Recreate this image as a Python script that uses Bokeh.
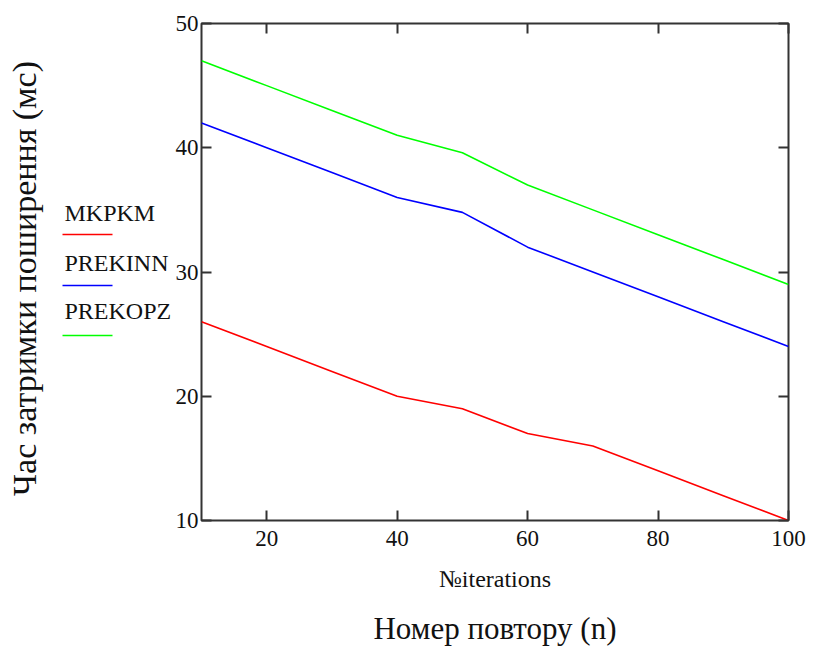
import math
from bokeh.plotting import figure
from bokeh.models import Range1d, FixedTicker, LinearAxis, ColumnDataSource
from bokeh.layouts import row
from bokeh.core.properties import value
from bokeh.embed import file_html
from bokeh.resources import INLINE

# ---- data ----
iterations = [10, 20, 30, 40, 50, 60, 70, 80, 90, 100]
mkpkm = [26, 24, 22, 20, 19, 17, 16, 14, 12, 10]
prekinn = [42, 40, 38, 36, 34.8, 32, 30, 28, 26, 24]
prekopz = [47, 45, 43, 41, 39.6, 37, 35, 33, 31, 29]
series_names = ["MKPKM", "PREKINN", "PREKOPZ"]
series_colors = ["#ff0000", "#0000ff", "#00ff00"]
x_ticks = [20, 40, 60, 80, 100]
y_ticks = [10, 20, 30, 40, 50]
x_title = "№iterations"
x_caption = "Номер повтору (n)"
y_title = "Час затримки поширення (мс)"

FONT = "Liberation Serif"
DARK = "#333333"
TXT = "#111111"

TOTAL_W, H = 814, 648
LW = 172                      # side panel (y title + legend)
MW = TOTAL_W - LW             # main chart figure
FRAME_L, FRAME_R, FRAME_T, FRAME_B = 200, 788, 23, 520

# ---------------- side panel: y title and legend ----------------
# its frame is aligned with the main chart's frame (rows align plot borders),
# so the y range is expressed in page pixels between the frame's top and bottom
side = figure(width=LW, height=H, output_backend="svg", toolbar_location=None,
              x_range=Range1d(0, LW), y_range=Range1d(FRAME_B, FRAME_T),
              min_border_left=0, min_border_right=0,
              min_border_top=FRAME_T, min_border_bottom=H - FRAME_B,
              x_axis_location=None, y_axis_location=None)
side.grid.visible = False
side.outline_line_color = None

side.text(x=[24], y=[278], text=[y_title], angle=math.pi / 2,
          text_font=value(FONT), text_font_size=value("34px"), text_color=TXT,
          text_align="center", text_baseline="middle")

leg = ColumnDataSource(dict(
    name=series_names, color=series_colors,
    tx=[64, 64, 64], ty=[212, 262, 310],
    x0=[62, 62, 62], x1=[112, 112, 112], ly=[234, 285, 335]))
side.text(x="tx", y="ty", text="name", source=leg, text_font=value(FONT),
          text_font_size=value("24px"), text_color=TXT,
          text_align="left", text_baseline="middle")
side.segment(x0="x0", y0="ly", x1="x1", y1="ly", color="color", source=leg, line_width=1.6)

# ---------------- main chart ----------------
p = figure(width=MW, height=H, output_backend="svg", toolbar_location=None,
           x_range=Range1d(10, 100), y_range=Range1d(10, 50),
           min_border_left=FRAME_L - LW, min_border_right=TOTAL_W - FRAME_R,
           min_border_top=FRAME_T, min_border_bottom=H - FRAME_B,
           x_axis_location=None, y_axis_location=None)
p.grid.visible = False
p.outline_line_color = DARK
p.outline_line_width = 2


def make_axis(ticks, labels=True):
    ax = LinearAxis(ticker=FixedTicker(ticks=ticks))
    ax.axis_line_color = None
    ax.major_tick_in = 10
    ax.major_tick_out = 0
    ax.major_tick_line_color = DARK
    ax.major_tick_line_width = 2
    ax.minor_tick_line_color = None
    ax.major_label_text_font = FONT
    ax.major_label_text_font_size = "23px"
    ax.major_label_text_color = TXT
    if not labels:
        ax.major_label_overrides = {t: "" for t in ticks}
        ax.major_label_standoff = 0
    return ax


bx = make_axis(x_ticks)
bx.major_label_standoff = 10
bx.axis_label = x_title
bx.axis_label_text_font = FONT
bx.axis_label_text_font_size = "24px"
bx.axis_label_text_font_style = "normal"
bx.axis_label_text_color = TXT
bx.axis_label_standoff = 17
p.add_layout(bx, "below")

cap = LinearAxis(ticker=FixedTicker(ticks=[]))
cap.axis_line_color = None
cap.major_tick_line_color = None
cap.minor_tick_line_color = None
cap.major_label_standoff = 0
cap.axis_label = x_caption
cap.axis_label_text_font = FONT
cap.axis_label_text_font_size = "31px"
cap.axis_label_text_font_style = "normal"
cap.axis_label_text_color = TXT
cap.axis_label_standoff = 16
p.add_layout(cap, "below")

ly = make_axis(y_ticks)
ly.major_label_standoff = 3
p.add_layout(ly, "left")
p.add_layout(make_axis(x_ticks, labels=False), "above")
p.add_layout(make_axis(y_ticks, labels=False), "right")

for ys, c in zip([mkpkm, prekinn, prekopz], series_colors):
    p.line(iterations, ys, line_color=c, line_width=1.6)

layout = row(side, p)
open("out.html", "w").write(file_html(layout, INLINE))
